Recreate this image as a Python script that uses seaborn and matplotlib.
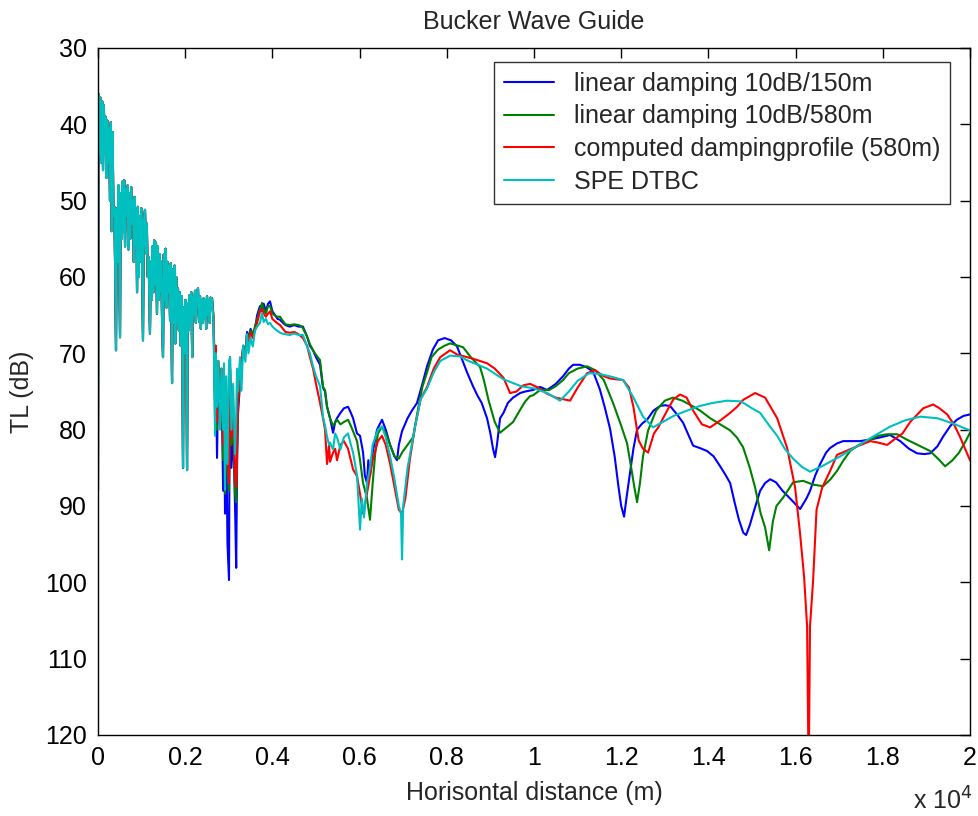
import matplotlib
matplotlib.use("Agg")
import matplotlib.pyplot as plt
import matplotlib.ticker as mticker
import pandas as pd
import seaborn as sns

# Near-field part (0 - 2.6 km): the four solutions coincide here
near_x = [0, 15, 35, 55, 75, 95, 115, 135, 155, 175, 195, 215, 235, 255, 275, 295,
          315, 335, 355, 375, 395, 413, 430, 450, 470, 490, 505, 520, 540, 560, 580,
          600, 620, 640, 660, 680, 700, 720, 740, 760, 780, 800, 820, 840, 860, 880,
          895, 915, 935, 955, 975, 995, 1015, 1032, 1050, 1078, 1100, 1120, 1140,
          1160, 1192, 1210, 1230, 1250, 1270, 1290, 1310, 1330, 1353, 1370, 1390,
          1410, 1430, 1450, 1470, 1491, 1510, 1530, 1550, 1570, 1590, 1610, 1630,
          1652, 1670, 1698, 1715, 1735, 1755, 1775, 1795, 1815, 1835, 1855, 1875,
          1895, 1915, 1935, 1950, 1965, 1985, 2005, 2025, 2042, 2060, 2080, 2100,
          2120, 2140, 2160, 2180, 2200, 2225, 2245, 2265, 2294, 2317, 2340, 2360,
          2380, 2400, 2420, 2440, 2460, 2480, 2500, 2520, 2540, 2560, 2580, 2600]
near_tl = [88, 36, 44, 36.5, 45, 37, 46, 37.5, 44, 39, 47, 39.5, 45, 40.5, 50, 39.7,
           54, 41, 52, 50.8, 60, 69.6, 51, 58, 48, 60, 67.9, 49, 55, 47.5, 54,
           47.3, 56, 48.5, 52, 48, 56.4, 49, 55, 48.2, 53, 50, 58, 49.5, 56, 51,
           62, 50.8, 60, 52, 58, 51, 60, 68.3, 52.7, 51.2, 56.9, 53, 60,
           57.4, 67.4, 58, 63, 56, 62, 55.2, 61, 55.5, 64.8, 56, 63,
           57, 62, 58, 66, 70.5, 57, 63, 56.3, 64, 58, 62, 58.5,
           65.7, 58.2, 73.9, 59, 66, 58.5, 68.7, 60, 66, 61.5, 67, 62,
           69, 62.5, 71, 85, 64, 70, 63, 68, 85.3, 63.5, 67, 62.4,
           66, 62, 70.5, 62.5, 65, 61.8, 66, 62, 61.5, 65.9, 62.5, 66.8,
           63, 66, 62.8, 65.5, 63, 66.8, 62.5, 65, 63, 66, 62.7, 64]

# Far-field parts, one per boundary treatment
blue_x = [2615, 2650, 2684, 2700, 2730, 2760, 2799, 2830, 2870, 2890, 2913, 2940, 2970,
          3005, 3020, 3028, 3060, 3100, 3143, 3170, 3189, 3210, 3257, 3290, 3330, 3380,
          3418, 3450, 3500, 3550, 3601, 3650, 3716, 3762, 3800, 3850, 3900, 3945, 4000,
          4060, 4120, 4175, 4240, 4300, 4400, 4500, 4600, 4700, 4795, 4860, 4932, 5000,
          5093, 5161, 5207, 5253, 5322, 5391, 5440, 5482, 5560, 5640, 5735, 5800, 5850,
          5941, 6010, 6080, 6120, 6170, 6200, 6239, 6300, 6400, 6514, 6600, 6700, 6800,
          6858, 6900, 6973, 7100, 7200, 7317, 7440, 7547, 7680, 7800, 7950, 8100, 8235,
          8350, 8465, 8600, 8700, 8800, 8923, 9000, 9060, 9107, 9150, 9222, 9300, 9400,
          9520, 9681, 9800, 9979, 10140, 10300, 10500, 10667, 10800, 10897, 11050, 11200,
          11356, 11509, 11620, 11745, 11850, 11938, 12000, 12066, 12120, 12180, 12280,
          12364, 12480, 12594, 12740, 12893, 13000, 13122, 13280, 13420, 13550, 13650,
          13800, 13971, 14120, 14270, 14400, 14499, 14600, 14700, 14800, 14865, 14950,
          15026, 15187, 15300, 15416, 15550, 15700, 15921, 16104, 16250, 16333, 16450,
          16563, 16700, 16792, 16950, 17090, 17300, 17480, 17700, 17950, 18168, 18400,
          18600, 18787, 18950, 19086, 19250, 19384, 19550, 19700, 19850, 20000]
blue_tl = [62.8, 66, 78, 70, 83.7, 72, 78, 73, 88, 75, 91, 80, 95,
           99.7, 75, 70.5, 85, 80, 90, 98.1, 85, 78, 74, 72, 69, 70,
           67.2, 68, 66.8, 67.5, 66.8, 65, 63.8, 64.5, 63.5, 64.5, 63.5, 63.2, 64.5,
           65, 65.5, 65.6, 66, 66.3, 66.5, 66.3, 66.5, 66.5, 67.8, 69, 69.6, 70.5,
           71.5, 74.5, 75, 77, 78.5, 80.4, 79, 78.5, 77.8, 77.2, 77.0, 77.8, 78.5,
           80.5, 80.8, 83, 86, 87, 84, 86, 83, 80, 78.7, 80, 82, 83.5,
           84, 82, 80.2, 78.5, 77.5, 76.5, 74, 71.7, 69.5, 68.3, 68, 68.3, 69.1,
           70.8, 72.5, 74.3, 75.5, 76.5, 78.5, 80.5, 82.5, 83.6, 82, 78.5, 77.8, 76.5,
           75.8, 75.2, 75, 74.8, 74.4, 74.8, 74, 73, 72, 71.5, 71.5, 71.8,
           72.4, 74.7, 77, 79.9, 83.5, 87.5, 90, 91.4, 89, 86.6, 82.5,
           80, 79.2, 78.7, 77.5, 76.9, 76.8, 76.9, 78, 79.1, 80.8, 82.1,
           82.4, 82.8, 83.5, 84.8, 86, 87, 89.5, 91.8, 93.5, 93.8, 92.5,
           91, 88, 87, 86.5, 86.9, 88, 89.3, 90.4, 89, 88, 86,
           84.5, 83, 82.4, 81.8, 81.5, 81.5, 81.5, 81.3, 81, 80.7, 81.5,
           82.5, 83.1, 83.2, 83.1, 82.2, 80.9, 79.5, 78.7, 78.2, 78]

green_x = [2615, 2650, 2684, 2700, 2730, 2760, 2799, 2830, 2870, 2890, 2913, 2940, 2970,
           3005, 3028, 3060, 3100, 3143, 3170, 3189, 3210, 3257, 3290, 3330, 3380, 3418,
           3450, 3500, 3550, 3601, 3650, 3716, 3762, 3800, 3850, 3900, 3945, 4000, 4100,
           4175, 4221, 4300, 4400, 4500, 4600, 4680, 4795, 4860, 4932, 5000, 5093, 5161,
           5207, 5253, 5322, 5391, 5482, 5560, 5640, 5735, 5800, 5850, 5941, 6010, 6080,
           6170, 6239, 6300, 6360, 6420, 6514, 6600, 6700, 6800, 6900, 6973, 7100, 7226,
           7350, 7440, 7547, 7650, 7800, 7950, 8075, 8200, 8373, 8550, 8763, 8850, 8960,
           9100, 9222, 9350, 9520, 9681, 9800, 9910, 9979, 10140, 10350, 10500, 10667,
           10800, 11000, 11218, 11400, 11600, 11820, 12000, 12135, 12250, 12300, 12364,
           12430, 12500, 12617, 12800, 13000, 13190, 13400, 13600, 13810, 14040, 14270,
           14499, 14650, 14796, 14950, 15072, 15200, 15300, 15393, 15480, 15560, 15714,
           15943, 16173, 16400, 16632, 16800, 16950, 17100, 17251, 17450, 17641, 17900,
           18100, 18329, 18550, 18800, 19086, 19300, 19430, 19600, 19750, 19900, 20000]
green_tl = [62.8, 65, 75, 69, 80, 71, 77, 72, 84, 74, 88.4, 78, 84,
            88, 72, 82, 78, 88.4, 89.5, 83, 77, 73, 71.5, 69, 70, 67.5,
            68, 67, 67.5, 66.5, 65.5, 64.2, 63.4, 64.2, 64.8, 63.8, 63.8, 64.8, 65.2,
            65.2, 65.6, 66.2, 66.3, 66.2, 66.3, 66.5, 67.8, 68.8, 69.6, 70.2, 70.9, 74.4,
            74.8, 77, 78.5, 79.5, 78.7, 79.3, 79, 78.7, 79.5, 80.2, 81.5, 84, 87,
            89, 91.8, 87, 83, 80.5, 79.6, 80.5, 82, 83.5, 83.8, 83, 82, 81,
            77, 74.4, 72.5, 70.5, 69.5, 69, 68.7, 68.9, 69.2, 70.5, 71.8, 73.5, 76.2,
            79, 80.4, 79.8, 79, 77.4, 76.3, 75.6, 75.5, 74.8, 74.8, 74.3, 73.5,
            72.6, 72, 71.7, 72.2, 73.5, 76.6, 79.5, 81.8, 85.7, 87.5, 89.5,
            87, 83.5, 80.1, 77.5, 76.2, 75.8, 76.2, 76.8, 77.5, 78.5, 79.3,
            80.1, 81, 82.3, 85, 87.6, 91, 92.8, 95.8, 92, 90, 88.9,
            86.9, 86.7, 87.2, 87.4, 86.5, 85.4, 84, 82.8, 82, 81.5, 80.8,
            80.6, 80.6, 81.3, 82, 82.8, 84, 84.8, 84, 83, 81.5, 80.4]

red_x = [2615, 2650, 2684, 2700, 2730, 2760, 2799, 2830, 2870, 2890, 2913, 2940, 2970,
         3005, 3028, 3060, 3100, 3143, 3170, 3189, 3210, 3257, 3290, 3330, 3380, 3418,
         3450, 3500, 3550, 3601, 3650, 3716, 3762, 3800, 3850, 3900, 3945, 4000, 4100,
         4175, 4300, 4400, 4500, 4600, 4700, 4795, 4860, 4932, 5000, 5093, 5161, 5207,
         5253, 5300, 5322, 5391, 5440, 5482, 5560, 5640, 5735, 5800, 5850, 5941, 6010,
         6080, 6150, 6239, 6300, 6420, 6514, 6600, 6700, 6800, 6900, 6973, 7050, 7150,
         7272, 7400, 7547, 7700, 7850, 8075, 8250, 8400, 8600, 8923, 9100, 9300, 9451,
         9600, 9750, 9910, 10100, 10300, 10500, 10828, 11000, 11218, 11400, 11600, 11745,
         12043, 12180, 12280, 12400, 12500, 12617, 12750, 12850, 13053, 13200, 13351,
         13500, 13650, 13850, 14040, 14270, 14499, 14659, 14796, 15072, 15300, 15577,
         15806, 15989, 16104, 16195, 16264, 16300, 16330, 16402, 16480, 16609, 16792,
         16950, 17320, 17710, 17900, 18100, 18260, 18450, 18627, 18926, 19155, 19300,
         19477, 19650, 19775, 20000]
red_tl = [62.8, 65.5, 75.5, 69, 79, 71, 76, 72, 82, 74, 86, 77, 82,
          87, 72, 81, 77, 86, 87.5, 82, 76, 72.5, 71, 69.5, 70, 67.8,
          68.5, 67.3, 68, 67, 66, 64.5, 64.2, 64.8, 65.2, 64.8, 64.5, 65.5, 66,
          66.3, 67.2, 67.3, 67.2, 67.5, 68, 69, 70.5, 72, 74, 76.5, 78.5, 80,
          84.5, 82, 84.2, 83, 82.5, 84, 82, 81.5, 82.5, 84, 85.2, 86.1, 88.4,
          91, 89, 86, 84, 81.5, 80.8, 82, 84.5, 87.5, 90.5, 91, 89, 84,
          79.6, 76, 74.4, 72, 70.5, 69.6, 70.2, 70.4, 70.7, 71.3, 72, 73.2, 75.2,
          75, 74.2, 74, 74.5, 75.3, 75.8, 76.2, 74.5, 72.6, 72.2, 73, 73.3,
          73.5, 74.5, 77, 81.4, 82.5, 83, 80.5, 79.7, 77.5, 76, 75.4,
          75.8, 77.5, 79.3, 79.7, 78.8, 77.8, 77, 76.1, 75.2, 75.8, 78.5,
          82.4, 87.6, 93.7, 99.3, 105.8, 126, 105.8, 99.7, 90.5, 87.6, 85.4,
          83.3, 82.4, 81.5, 81.7, 82, 81.3, 80.5, 79, 77.2, 76.7, 77.2,
          78, 79.5, 81, 84]

cyan_x = [2615, 2650, 2684, 2700, 2730, 2760, 2799, 2830, 2870, 2890, 2913, 2940, 2970,
          3005, 3028, 3060, 3100, 3143, 3170, 3189, 3210, 3257, 3290, 3330, 3380, 3418,
          3450, 3500, 3550, 3601, 3650, 3716, 3762, 3800, 3850, 3900, 3945, 4000, 4100,
          4175, 4221, 4300, 4400, 4500, 4600, 4700, 4795, 4860, 4932, 5000, 5093, 5161,
          5207, 5253, 5300, 5322, 5391, 5440, 5482, 5560, 5640, 5735, 5800, 5850, 5941,
          6010, 6050, 6100, 6170, 6239, 6300, 6420, 6514, 6600, 6700, 6800, 6900, 6950,
          6973, 7000, 7100, 7272, 7400, 7547, 7700, 7850, 8075, 8300, 8500, 8923, 9300,
          9700, 10009, 10300, 10598, 10800, 11000, 11264, 11500, 11800, 12043, 12273,
          12502, 12732, 12950, 13200, 13512, 13800, 14100, 14430, 14750, 15000, 15187,
          15400, 15577, 15750, 15943, 16150, 16333, 16600, 17022, 17400, 17779, 18168,
          18500, 18857, 19250, 19614, 20000]
cyan_tl = [62.8, 66, 80.8, 70, 77, 71, 80, 72, 80, 71.3, 87.9, 73, 84.5,
           71, 70.5, 80, 74, 83.2, 78, 72, 75, 70.5, 74.9, 69, 71.1, 67.5,
           70, 68, 69.1, 67, 66.5, 66, 64.7, 65.9, 65.5, 66.2, 66, 66.5, 67,
           67.3, 67.4, 67.5, 67.6, 67.4, 67.6, 67.6, 69.1, 70, 71.7, 73, 74.3, 78.3,
           79.5, 80.9, 82, 81.7, 82.6, 80.5, 81, 82.6, 81, 80.5, 82, 83, 86,
           93.1, 89, 91.5, 87, 85, 82, 80, 79.6, 81, 83.5, 86.5, 90, 91,
           97, 90, 85, 79.6, 76, 74.6, 72.5, 71, 70.3, 70.4, 71, 72, 73.4,
           74.3, 74.6, 75.2, 76.2, 75, 73.6, 72.6, 72.7, 73.1, 73.5, 75.7,
           78.3, 79.7, 79, 78.2, 77.5, 76.9, 76.5, 76.2, 76.3, 77.2, 77.8,
           79.5, 80.8, 82.5, 83.8, 84.9, 85.5, 84.8, 83.5, 82.2, 80.9, 79.6,
           78.8, 78.3, 78.5, 79.2, 80.1]

series_names = ["linear damping 10dB/150m", "linear damping 10dB/580m",
                "computed dampingprofile (580m)", "SPE DTBC"]
series_colors = ["#0000ff", "#008000", "#ff0000", "#00bfbf"]

far_parts = [(blue_x, blue_tl), (green_x, green_tl), (red_x, red_tl), (cyan_x, cyan_tl)]
frames = []
for name, (fx, ft) in zip(series_names, far_parts):
    frames.append(pd.DataFrame({"range": near_x + fx, "TL": near_tl + ft, "series": name}))
df = pd.concat(frames, ignore_index=True)

sns.set_style("white")
plt.rcParams["font.family"] = ["Liberation Sans", "DejaVu Sans"]
FS = 18

fig = plt.figure(figsize=(9.79, 8.16), dpi=100)
ax = fig.add_axes([98 / 979, 1 - 735 / 816, 872 / 979, 687 / 816])

sns.lineplot(data=df, x="range", y="TL", hue="series", hue_order=series_names,
             palette=series_colors, estimator=None, sort=False, linewidth=1.5, ax=ax)

ax.set_xlim(0, 20000)
ax.set_ylim(120, 30)
ax.set_xticks(range(0, 20001, 2000))
ax.xaxis.set_major_formatter(mticker.FuncFormatter(lambda v, p: f"{v / 1e4:g}"))
ax.set_yticks(range(30, 121, 10))
ax.tick_params(direction="in", length=7, width=1, top=True, right=True,
               labelsize=FS, colors="black", pad=8)
for sp in ax.spines.values():
    sp.set_visible(True)
    sp.set_color("black")
    sp.set_linewidth(1.0)

ax.set_title("Bucker Wave Guide", fontsize=FS, pad=14)
ax.set_xlabel("Horisontal distance (m)", fontsize=FS, labelpad=8)
ax.set_ylabel("TL (dB)", fontsize=FS, labelpad=8)
fig.text(0.963, 0.018, r"x 10$^4$", fontsize=FS, ha="center", va="center")

leg = ax.legend(loc="upper right", bbox_to_anchor=(0.977, 0.98), borderaxespad=0,
                fontsize=FS, frameon=True, fancybox=False, edgecolor="black",
                handlelength=2.0, handletextpad=0.8, labelspacing=0.35,
                borderpad=0.4)
leg.get_frame().set_linewidth(1.0)
for line in leg.get_lines():
    line.set_linewidth(1.5)

fig.savefig("out.png", dpi=100, facecolor="white")
